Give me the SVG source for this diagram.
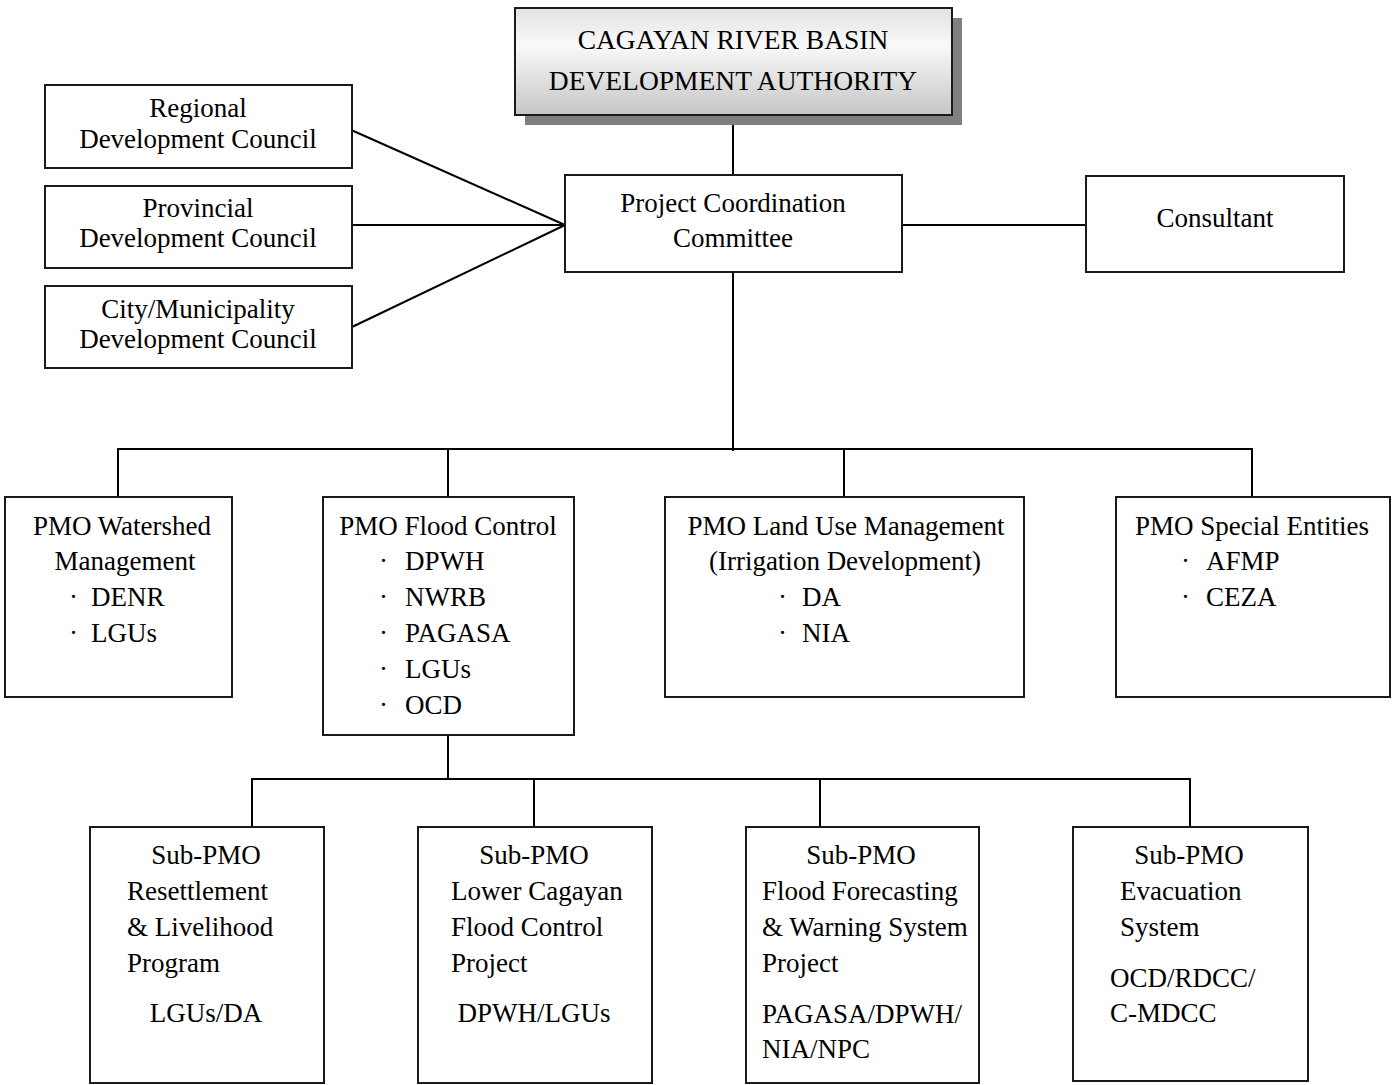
<svg xmlns="http://www.w3.org/2000/svg" width="1394" height="1085" viewBox="0 0 1394 1085">
<defs>
<linearGradient id="topgrad" x1="0" y1="0" x2="0" y2="1">
<stop offset="0" stop-color="#e2e2e2"/>
<stop offset="0.35" stop-color="#f9f9f9"/>
<stop offset="1" stop-color="#c6c6c6"/>
</linearGradient>
<style>
.box{fill:#ffffff;stroke:#1a1a1a;stroke-width:2}
.conn{stroke:#000;stroke-width:2;fill:none}
text{font-family:"Liberation Serif","Times New Roman",serif;font-size:27px;fill:#000}
.c{text-anchor:middle}
</style>
</defs>
<rect width="1394" height="1085" fill="#ffffff"/>

<g id="connectors">
<line class="conn" x1="733" y1="115" x2="733" y2="175"/>
<line class="conn" x1="349" y1="129" x2="565" y2="225"/>
<line class="conn" x1="352" y1="225" x2="565" y2="225"/>
<line class="conn" x1="352" y1="327" x2="565" y2="225"/>
<line class="conn" x1="902" y1="225" x2="1086" y2="225"/>
<line class="conn" x1="733" y1="272" x2="733" y2="451"/>
<polyline class="conn" points="118,497 118,449 1252,449 1252,497"/>
<line class="conn" x1="448" y1="449" x2="448" y2="497"/>
<line class="conn" x1="844" y1="449" x2="844" y2="497"/>
<line class="conn" x1="448" y1="735" x2="448" y2="779"/>
<polyline class="conn" points="252,827 252,779 1190,779 1190,827"/>
<line class="conn" x1="534" y1="779" x2="534" y2="827"/>
<line class="conn" x1="820" y1="779" x2="820" y2="827"/>
</g>

<g id="cagayan">
<rect x="525" y="18" width="437" height="107" fill="#808080"/>
<rect x="515" y="8" width="437" height="107" fill="url(#topgrad)" stroke="#1a1a1a" stroke-width="2"/>
<text class="c" x="733" y="49" style="font-size:27.5px">CAGAYAN RIVER BASIN</text>
<text class="c" x="733" y="90" style="font-size:27.5px">DEVELOPMENT AUTHORITY</text>
</g>

<g id="regional">
<rect class="box" x="45" y="85" width="307" height="83"/>
<text class="c" x="198" y="117">Regional</text>
<text class="c" x="198" y="148">Development Council</text>
</g>

<g id="provincial">
<rect class="box" x="45" y="186" width="307" height="82"/>
<text class="c" x="198" y="217">Provincial</text>
<text class="c" x="198" y="247">Development Council</text>
</g>

<g id="city">
<rect class="box" x="45" y="286" width="307" height="82"/>
<text class="c" x="198" y="318">City/Municipality</text>
<text class="c" x="198" y="348">Development Council</text>
</g>

<g id="pcc">
<rect class="box" x="565" y="175" width="337" height="97"/>
<text class="c" x="733" y="212">Project Coordination</text>
<text class="c" x="733" y="247">Committee</text>
</g>

<g id="consultant">
<rect class="box" x="1086" y="176" width="258" height="96"/>
<text class="c" x="1215" y="227">Consultant</text>
</g>

<g id="pmo-watershed">
<rect class="box" x="5" y="497" width="227" height="200"/>
<text class="c" x="122" y="535">PMO Watershed</text>
<text class="c" x="125" y="570">Management</text>
<text><tspan x="69" y="606">·</tspan><tspan x="91" y="606">DENR</tspan></text>
<text><tspan x="69" y="642">·</tspan><tspan x="91" y="642">LGUs</tspan></text>
</g>

<g id="pmo-flood">
<rect class="box" x="323" y="497" width="251" height="238"/>
<text class="c" x="448" y="535">PMO Flood Control</text>
<text><tspan x="379" y="570">·</tspan><tspan x="405" y="570">DPWH</tspan></text>
<text><tspan x="379" y="606">·</tspan><tspan x="405" y="606">NWRB</tspan></text>
<text><tspan x="379" y="642">·</tspan><tspan x="405" y="642">PAGASA</tspan></text>
<text><tspan x="379" y="678">·</tspan><tspan x="405" y="678">LGUs</tspan></text>
<text><tspan x="379" y="714">·</tspan><tspan x="405" y="714">OCD</tspan></text>
</g>

<g id="pmo-landuse">
<rect class="box" x="665" y="497" width="359" height="200"/>
<text class="c" x="846" y="535">PMO Land Use Management</text>
<text class="c" x="845" y="570">(Irrigation Development)</text>
<text><tspan x="778" y="606">·</tspan><tspan x="802" y="606">DA</tspan></text>
<text><tspan x="778" y="642">·</tspan><tspan x="802" y="642">NIA</tspan></text>
</g>

<g id="pmo-special">
<rect class="box" x="1116" y="497" width="274" height="200"/>
<text class="c" x="1252" y="535">PMO Special Entities</text>
<text><tspan x="1181" y="570">·</tspan><tspan x="1206" y="570">AFMP</tspan></text>
<text><tspan x="1181" y="606">·</tspan><tspan x="1206" y="606">CEZA</tspan></text>
</g>

<g id="sub-resettlement">
<rect class="box" x="90" y="827" width="234" height="256"/>
<text class="c" x="206" y="864">Sub-PMO</text>
<text x="127" y="900">Resettlement</text>
<text x="127" y="936">&amp; Livelihood</text>
<text x="127" y="972">Program</text>
<text class="c" x="206" y="1022">LGUs/DA</text>
</g>

<g id="sub-lower">
<rect class="box" x="418" y="827" width="234" height="256"/>
<text class="c" x="534" y="864">Sub-PMO</text>
<text x="451" y="900">Lower Cagayan</text>
<text x="451" y="936">Flood Control</text>
<text x="451" y="972">Project</text>
<text class="c" x="534" y="1022">DPWH/LGUs</text>
</g>

<g id="sub-forecast">
<rect class="box" x="746" y="827" width="233" height="256"/>
<text class="c" x="861" y="864">Sub-PMO</text>
<text x="762" y="900">Flood Forecasting</text>
<text x="762" y="936">&amp; Warning System</text>
<text x="762" y="972">Project</text>
<text x="762" y="1023">PAGASA/DPWH/</text>
<text x="762" y="1058">NIA/NPC</text>
</g>

<g id="sub-evacuation">
<rect class="box" x="1073" y="827" width="235" height="254"/>
<text class="c" x="1189" y="864">Sub-PMO</text>
<text x="1120" y="900">Evacuation</text>
<text x="1120" y="936">System</text>
<text x="1110" y="987">OCD/RDCC/</text>
<text x="1110" y="1022">C-MDCC</text>
</g>
</svg>
